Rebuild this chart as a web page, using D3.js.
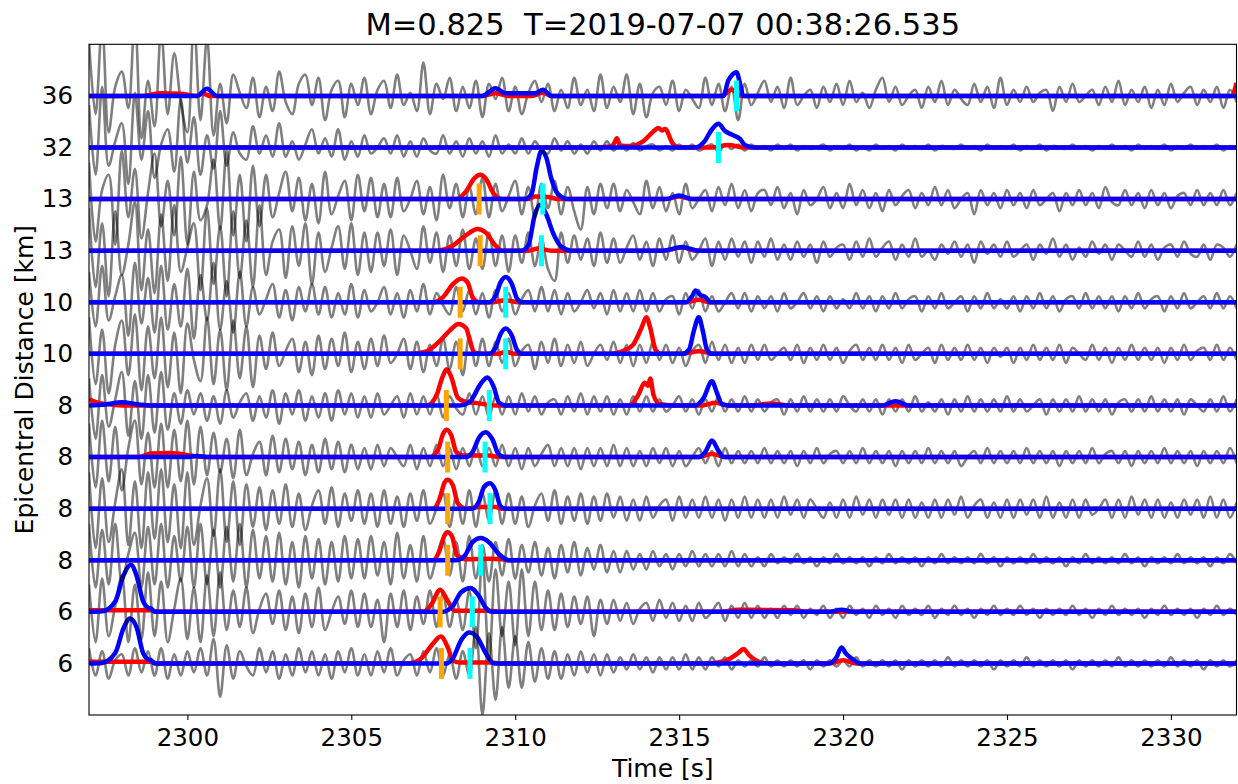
<!DOCTYPE html>
<meta charset="utf-8">
<title>Phase picks</title>
<style>
body {
  margin: 0;
  background: #fff;
}
text {
  font-family: "DejaVu Sans", sans-serif;
  fill: #000;
}
</style>
<body>
<script src="https://cdn.jsdelivr.net/npm/d3@7/dist/d3.min.js"></script>
<script>

// rows listed top to bottom
var distLabels = ["36", "32", "13", "13", "10", "10", "8", "8", "8", "8", "6", "6"];

var pickP = [null, null, 2308.9, 2308.93, 2308.32, 2308.32, 2307.9, 2307.94, 2307.94, 2307.94, 2307.71, 2307.75];
var pickS = [2316.75, 2316.2, 2310.84, 2310.8, 2309.71, 2309.71, 2309.21, 2309.08, 2309.23, 2308.95, 2308.69, 2308.62];

// P probability, [time, prob] knots
var probP = [
  [[2298.6,0],[2299.2,0.05],[2299.8,0.04],[2300.3,0],[2300.45,0.05],[2300.7,0],[2309.0,0],[2309.4,0.05],[2309.8,0],[2310.5,0],[2310.85,0.06],[2311.1,0],[2316.3,0],[2316.6,0.12],[2316.9,0],[2331.85,0],[2332,0.25]],
  [[2312.3,0],[2312.9,0.02],[2313.0,0.06],[2313.1,0.18],[2313.2,0.04],[2313.5,0.03],[2313.9,0.12],[2314.2,0.3],[2314.37,0.38],[2314.47,0.33],[2314.57,0.36],[2314.8,0.08],[2315.0,0],[2316.0,0],[2316.5,0.05],[2317.0,0]],
  [[2308.2,0],[2308.5,0.15],[2308.75,0.4],[2308.93,0.47],[2309.1,0.4],[2309.35,0.1],[2309.6,0],[2310.4,0],[2310.6,0.05],[2311.0,0.04],[2311.3,0],[2314.6,0],[2315.0,0.05],[2315.4,0]],
  [[2307.6,0],[2308.1,0.1],[2308.5,0.3],[2308.85,0.42],[2309.1,0.35],[2309.4,0.1],[2309.6,0],[2310.4,0],[2310.7,0.04],[2311.1,0],[2314.5,0],[2315.1,0.06],[2315.5,0]],
  [[2307.5,0],[2307.8,0.1],[2308.1,0.35],[2308.37,0.46],[2308.55,0.38],[2308.7,0.1],[2308.9,0],[2309.3,0],[2309.7,0.04],[2310.1,0],[2315.2,0],[2315.6,0.05],[2315.9,0]],
  [[2306.8,0],[2307.3,0.05],[2307.7,0.25],[2308.0,0.45],[2308.27,0.58],[2308.5,0.5],[2308.62,0.25],[2308.75,0.03],[2309.0,0],[2309.5,0],[2309.7,0.04],[2310.0,0],[2312.9,0],[2313.3,0.06],[2313.6,0.18],[2313.85,0.5],[2314.0,0.71],[2314.12,0.5],[2314.28,0.08],[2314.45,0],[2315.1,0],[2315.6,0.05],[2316.1,0]],
  [[2297,0.12],[2297.3,0.05],[2297.8,0.01],[2298.2,0],[2307.3,0],[2307.6,0.2],[2307.78,0.55],[2307.91,0.7],[2308.05,0.55],[2308.25,0.15],[2308.45,0.08],[2308.8,0.05],[2309.4,0],[2313.5,0],[2313.75,0.2],[2313.95,0.44],[2314.05,0.38],[2314.12,0.52],[2314.22,0.2],[2314.4,0.03],[2314.8,0],[2315.7,0],[2316.1,0.05],[2316.5,0],[2317.2,0],[2317.8,0.04],[2318.4,0]],
  [[2298.5,0],[2298.9,0.07],[2299.5,0.08],[2300.1,0.03],[2300.5,0],[2307.4,0],[2307.65,0.15],[2307.8,0.45],[2307.91,0.53],[2308.05,0.42],[2308.2,0.1],[2308.4,0.03],[2309.2,0.03],[2309.5,0],[2315.6,0],[2316.0,0.06],[2316.4,0]],
  [[2307.5,0],[2307.7,0.2],[2307.84,0.5],[2307.94,0.56],[2308.1,0.45],[2308.25,0.1],[2308.5,0],[2308.9,0.03],[2309.4,0.03],[2309.6,0]],
  [[2307.5,0],[2307.7,0.2],[2307.84,0.48],[2307.94,0.54],[2308.08,0.45],[2308.22,0.1],[2308.5,0.02],[2309.2,0.03],[2309.6,0.02],[2309.8,0]],
  [[2297,0.03],[2298.9,0.03],[2299.1,0],[2307.2,0],[2307.45,0.15],[2307.71,0.43],[2307.95,0.2],[2308.15,0.02],[2309.2,0.02],[2309.5,0],[2316.3,0],[2316.8,0.04],[2318.5,0.03],[2318.9,0]],
  [[2297,0.03],[2298.9,0.03],[2299.1,0],[2306.7,0],[2307.1,0.08],[2307.45,0.35],[2307.73,0.52],[2307.95,0.3],[2308.1,0.05],[2308.3,0.02],[2309.3,0.02],[2309.5,0],[2315.8,0],[2316.4,0.05],[2316.8,0.2],[2316.96,0.28],[2317.15,0.15],[2317.5,0.02],[2317.8,0],[2319.6,0],[2320.0,0.06],[2320.4,0]]
];

// S probability, [time, prob] knots
var probS = [
  [[2300.3,0],[2300.6,0.14],[2300.9,0],[2309.0,0],[2309.4,0.15],[2309.7,0.05],[2310.6,0.05],[2310.85,0.12],[2311.1,0],[2316.35,0],[2316.5,0.3],[2316.58,0.38],[2316.75,0.46],[2316.87,0.2],[2316.95,0]],
  [[2315.5,0],[2315.75,0.1],[2316.0,0.35],[2316.2,0.46],[2316.4,0.32],[2316.6,0.25],[2316.85,0.17],[2317.0,0.05],[2317.3,0]],
  [[2310.3,0],[2310.5,0.1],[2310.65,0.6],[2310.8,0.93],[2310.95,0.8],[2311.1,0.4],[2311.3,0.1],[2311.6,0],[2314.6,0],[2315.0,0.07],[2315.4,0]],
  [[2310.2,0],[2310.4,0.1],[2310.6,0.7],[2310.76,0.89],[2310.95,0.7],[2311.15,0.35],[2311.4,0.08],[2311.7,0],[2314.5,0],[2315.1,0.07],[2315.6,0]],
  [[2309.2,0],[2309.4,0.12],[2309.55,0.38],[2309.71,0.49],[2309.9,0.35],[2310.05,0.08],[2310.2,0],[2315.2,0],[2315.4,0.12],[2315.5,0.23],[2315.65,0.14],[2315.8,0.1],[2315.95,0]],
  [[2309.2,0],[2309.4,0.12],[2309.55,0.38],[2309.71,0.49],[2309.9,0.35],[2310.05,0.08],[2310.2,0],[2315.1,0],[2315.3,0.08],[2315.45,0.45],[2315.6,0.71],[2315.72,0.45],[2315.85,0.08],[2316.0,0]],
  [[2297,0],[2297.5,0.02],[2298.0,0.06],[2298.5,0.02],[2298.9,0],[2308.3,0],[2308.6,0.06],[2308.95,0.42],[2309.15,0.54],[2309.35,0.35],[2309.5,0.06],[2309.7,0],[2315.5,0],[2315.75,0.15],[2316.0,0.47],[2316.15,0.25],[2316.3,0.03],[2316.5,0],[2321.2,0],[2321.6,0.08],[2322.0,0]],
  [[2300.0,0],[2300.3,0.02],[2300.6,0],[2308.5,0],[2308.7,0.1],[2308.9,0.38],[2309.1,0.48],[2309.3,0.35],[2309.5,0.05],[2309.7,0],[2315.6,0],[2315.8,0.1],[2316.0,0.32],[2316.2,0.12],[2316.35,0]],
  [[2308.7,0],[2308.9,0.15],[2309.05,0.42],[2309.23,0.49],[2309.4,0.35],[2309.55,0.05],[2309.7,0]],
  [[2308.2,0],[2308.45,0.08],[2308.7,0.35],[2308.95,0.43],[2309.2,0.35],[2309.5,0.12],[2309.8,0]],
  [[2297,0],[2297.4,0.01],[2297.8,0.2],[2298.05,0.7],[2298.28,0.91],[2298.45,0.7],[2298.65,0.2],[2298.8,0.08],[2298.9,0.06],[2299.0,0],[2307.8,0],[2308.1,0.12],[2308.35,0.38],[2308.64,0.46],[2308.9,0.3],[2309.1,0.08],[2309.3,0],[2319.6,0],[2319.95,0.04],[2320.3,0]],
  [[2297,0],[2297.4,0.01],[2297.8,0.2],[2298.05,0.68],[2298.25,0.87],[2298.45,0.7],[2298.65,0.2],[2298.8,0.08],[2298.9,0.06],[2299.0,0],[2307.9,0],[2308.1,0.1],[2308.35,0.45],[2308.6,0.6],[2308.85,0.5],[2309.1,0.2],[2309.35,0],[2319.55,0],[2319.8,0.12],[2319.95,0.31],[2320.1,0.18],[2320.3,0.08],[2320.5,0]]
];

// waveform extrema, in counts (17 counts = one row spacing), from 2297 s to 2332 s
var wave36 = [18,-6,24,-12,3,8,-4,26,-14,5,-10,22,-6,14,-2,-12,25,-8,19,-13,
  4,-9,7,1,-4,6,-7,3,-5,8,-2,-6,4,7,-3,6,-8,2,5,-7,
  4,-3,6,-6,2,5,-4,7,-3,1,-5,11,-6,4,-1,6,-5,3,-4,5,
  -7,4,-1,6,-5,3,-6,1,5,-2,4,-5,2,-4,6,-3,2,-5,7,-4,
  3,-2,7,-6,4,-7,1,3,-3,5,-5,2,-1,-4,6,-3,4,-5,3,-8,
  4,-3,1,5,-2,3,-4,6,-3,0,2,-4,3,-2,4,-3,5,-2,1,-4,
  2,6,-2,3,-3,0,2,-4,3,-2,5,-3,2,-1,-3,4,-2,3,-4,6,
  -3,2,-2,3,-2,1,2,-5,3,-2,4,-2,0,2,-3,3,-2,5,-3,2,
  -2,3,-4,2,-3,4,-2,1,3,-3,2,-2,3,-4,2,-2];
var wave32 = [14,-9,20,-6,2,8,-12,18,-4,12,-10,1,6,-8,16,-5,10,-9,4,-7,
  12,-6,5,-2,-4,7,-2,4,-3,8,-3,2,-4,1,6,-2,3,-3,6,-4,
  2,-3,4,-2,0,3,-2,4,-3,2,-3,3,-1,-2,4,-2,2,-3,3,-2,
  2,-3,4,-2,1,-2,3,-2,2,-1,-2,3,-1,2,-2,1,-2,2,-1,2,
  -1,1,-1,1.5,-1,0.5,1,-1,0.5,-1,1,-0.5,1,-1,0,1,-1.5,1,-0.5,1,
  -1,1,-0.5,0.5,-1,1,-0.5,1,-1,0.5,-0.5,0,1,-1,0.5,-0.5,1,-1,0.5,-1,
  1,-0.5,0.5,-1,1,-0.5,0.5,-0.5,1,-1,0.5,0,-0.5,1,-0.5,0.5,-1,1,-0.5,0.5,
  -0.5,1,-1,0.5,-0.5,1,-1,0.5,0,-0.5,1,-0.5,0.5,-1,0.5,-0.5,1,-0.5,0.5,-1,
  1,-0.5,0.5,-0.5,1,-1,0.5,-0.5,1,-0.5,0.5,-0.5,1,-1,0.5,-0.5];
var wave13a = [12,-14,3,8,-15,16,-6,10,-13,2,15,-9,6,-12,14,-15,9,-7,-2,13,
  -10,16,-12,8,-14,11,-9,8,-6,2,9,-4,7,-7,5,-8,9,-5,1,6,
  -7,8,-4,7,-6,5,-6,7,-4,0,6,-5,4,-7,8,-3,5,-6,4,-5,
  7,-6,5,-4,1,6,-5,4,-6,5,-3,6,-5,4,-4,-10,4,-5,5,-3,
  5,-4,3,-1,-5,6,-3,4,-4,2,-5,5,-3,0,3,-4,4,-2,5,-3,
  3,-4,2,3,-2,4,-3,2,-5,3,-2,0,4,-3,2,-3,5,-2,3,-3,
  2,-4,3,-2,1,3,-3,2,-2,4,-2,3,-3,0,2,-5,3,-2,2,-3,
  3,-2,2,-3,3,-2,0,2,-4,2,-2,3,-2,2,-3,4,-1,-2,3,-2,
  2,-3,3,-2,2,-3,1,2,-2,3,-2,2,-2,3,-2,2];
var wave13b = [14,-12,9,-15,13,-8,2,16,-13,7,-14,12,-10,15,-7,1,9,-13,14,-11,
  8,-15,13,-9,10,-12,15,-8,3,7,-9,8,-5,9,-11,6,-7,1,8,-6,
  9,-8,6,-7,6,-5,7,-8,5,0,-6,8,-4,6,-7,5,-5,7,-6,4,
  -6,6,-5,5,-7,5,-4,6,-5,4,-6,-10,6,-4,5,-3,4,-5,6,-4,
  4,-4,1,5,-3,3,-5,4,-3,5,-4,3,-3,0,4,-5,3,-3,4,-2,
  3,-4,3,-2,4,-3,2,-3,3,-2,2,-4,3,-2,1,2,-3,3,-2,4,
  -2,1,3,-3,2,-2,4,-2,0,-3,2,-1,3,-2,2,-4,3,-1,2,-2,
  3,-2,0,2,-3,2,-1,4,-2,2,-3,1,-2,3,-1,2,-3,2,0,-2,
  3,-2,2,-3,1,2,-2,3,-1,-2,2,-3,2,1,-2,2];
var wave10a = [10,-8,12,-6,2,9,-11,13,-7,8,-10,12,-9,6,-8,11,-12,9,-6,13,
  -9,7,-10,10,-8,5,-4,1,6,-5,4,-6,5,-3,6,-4,5,-5,3,-4,
  6,-5,4,-3,0,5,-4,3,-5,4,-3,6,-4,3,-1,-4,5,-3,4,-4,
  3,-5,4,-3,3,-4,1,4,-3,5,-3,4,-4,3,-3,0,4,-2,3,-4,
  4,-3,3,-3,4,-3,3,-3,1,2,-4,3,-2,4,-3,2,-3,0,3,-2,
  3,-3,2,-2,2,-3,3,-2,0,3,-2,2,-3,2,-2,1,-2,3,-2,2,
  -3,2,-2,3,-2,1,2,-3,2,-2,3,-2,0,2,-3,2,-2,3,-2,1,
  -2,2,-3,2,-2,3,-2,2,-3,1,2,-2,3,-2,2,-2,2,-3,2,-2,
  3,-2,1,2,-3,2,-2,3,-2,0,2,-2,3,-2,2,-2];
var wave10b = [12,-10,8,-13,3,11,-7,13,-12,9,-8,12,-11,7,-13,10,-2,-9,12,-10,
  8,-12,11,-8,9,-11,6,-5,7,-4,1,5,-6,4,-7,6,-5,5,-4,7,
  -6,4,-5,5,-4,6,-3,0,5,-5,4,-6,3,-4,5,-5,4,-7,6,-4,
  5,-4,4,-3,5,-4,1,3,-5,4,-3,5,-4,3,-3,4,-4,0,3,-2,
  4,-3,3,-4,3,-3,4,-2,3,-3,2,-4,1,3,-3,4,-2,3,-3,2,
  -3,3,-2,3,-2,0,2,-2,3,-3,2,-2,3,-2,2,-3,1,3,-2,2,
  -2,3,-2,2,-3,3,-2,0,2,-3,3,-2,2,-2,3,-2,2,-3,2,-1,
  2,-3,2,-2,3,-2,2,-2,3,-3,2,0,-2,3,-2,2,-3,2,-2,3,
  -2,2,-2,2,-3,2,-2,3,-2,1,2,-2,3,-2,2,-2];
var wave8a = [9,-11,10,-7,2,11,-10,8,-11,10,-9,11,-8,4,-6,5,-3,4,-5,3,
  -6,5,-4,1,4,-5,3,-4,5,-6,4,-3,5,-5,3,-4,4,-5,5,-3,
  4,-4,3,-4,4,-3,0,3,-4,4,-3,3,-3,4,-4,3,-1,-3,4,-3,
  3,-4,3,-3,3,-3,4,-2,3,-3,1,2,-3,3,-2,4,-3,3,-2,3,
  -3,2,-3,3,-2,3,-2,2,-2,0,3,-2,2,-3,2,-2,3,-2,2,-2,
  3,-2,2,-2,1,2,-3,2,-2,3,-2,2,-2,2,-2,3,0,-2,2,-2,
  2,-3,2,-2,2,-2,3,-2,1,-2,2,-3,2,-2,3,-2,2,-2,2,-2,
  3,-2,2,-2,0,2,-3,2,-2,2,-2,3,-2,2,-2,2,-3,1,2,-2,
  2,-2,3,-2,2,-2,2,-3,2,0,-2,2,-2,3,-2,2];
var wave8b = [11,-10,12,-8,10,-11,3,12,-9,8,-10,11,-10,9,-8,12,-9,10,-6,8,
  -5,6,-7,9,-6,1,5,-6,7,-5,6,-4,5,-6,4,-5,6,-4,5,-5,
  4,-4,3,-4,4,-3,3,0,-3,4,-4,3,-3,4,-3,3,-4,3,-3,4,
  -3,3,-3,4,-3,3,-4,3,-3,1,4,-3,3,-3,3,-4,3,-3,3,-3,
  4,-3,3,-3,2,-3,3,-2,3,-3,2,-3,0,3,-2,2,-3,3,-2,2,
  -2,2,-2,3,-2,2,-2,2,-3,2,-2,3,-2,1,2,-2,2,-2,3,-2,
  2,-2,2,-3,2,-2,2,-2,3,-2,2,-2,2,-3,0,2,-2,3,-2,2,
  -2,2,-2,3,-2,2,-2,2,-3,2,-2,2,-2,3,-2,1,2,-2,2,-3,
  2,-2,2,-2,3,-2,2,-2,2,-3,2,-2,2,-2,3,-2];
var wave8c = [12,-13,10,-11,2,13,-12,9,-13,12,-10,13,-11,8,-13,12,-12,1,10,-9,
  13,-11,9,-12,8,-6,7,-7,6,-5,8,-6,5,-7,1,6,-5,7,-6,5,
  -4,6,-5,5,-6,6,-5,4,-6,5,-4,6,-5,0,5,-6,4,-5,6,-6,
  5,-4,6,-5,5,-5,4,-6,1,5,-4,6,-5,4,-4,5,-5,4,-4,5,
  -3,4,-4,3,-4,4,-3,1,3,-4,4,-3,3,-3,4,-3,3,-4,3,-3,
  4,-3,3,-3,3,-3,4,-2,3,-3,3,0,-3,2,-3,3,-3,4,-2,3,
  -3,3,-2,3,-3,3,-3,2,-3,3,-3,3,-2,4,-3,1,3,-3,2,-3,
  3,-3,3,-2,3,-3,4,-3,2,-3,3,-3,3,-2,0,3,-3,3,-3,4,
  -2,3,-3,3,-3,2,-3,3,-2,3,-3,4,-3,3,-3,2];
var wave8d = [12,-9,10,-8,12,-7,2,9,-9,11,-8,12,-9,8,-7,11,-9,12,-8,10,
  -9,11,-7,12,-9,10,-6,8,-7,9,-8,6,-9,8,-6,7,-8,6,-7,8,
  -6,7,-6,8,-5,6,-8,9,-6,5,-7,8,-6,1,7,-5,6,-7,8,-6,
  5,-7,6,-5,7,-6,5,-4,6,-5,4,-6,5,-4,6,-5,4,-3,5,-4,
  3,-4,3,-3,2,-3,3,-2,2,-3,2,-2,3,-2,2,-2,2,-2,3,-2,
  2,-2,1,-2,2,-1,1,-1,2,-1,1,-2,1,-1,2,-1,1,-1,1,-2,
  1,-1,2,-1,1,-1,1,-2,1,-1,2,-1,1,-1,1,-1,2,-1,1,-2,
  1,-1,1,-1,2,-1,1,-1,1,-2,1,-1,2,-1,1,-1,1,-1,2,-1,
  1,-2,1,-1,1,-1,2,-1,1,-1,1,-2,1,-1,2,-1];
var wave6a = [9,-10,11,-8,2,12,-10,9,-9,13,-8,10,-10,1,11,-9,8,-10,12,-8,
  13,-6,7,-5,8,-7,1,6,-4,7,-6,5,-7,6,-5,8,-6,0,5,-4,
  7,-5,6,-5,4,-10,6,-5,7,-6,5,-4,7,-5,6,-5,4,-6,7,-12,
  18,-16,14,-8,10,-11,14,-8,10,-6,7,-6,6,-5,5,-4,5,-8,4,-4,
  4,-3,3,-4,1,3,-3,4,-2,3,-3,2,-3,3,-2,0,3,-3,2,-2,
  3,-2,2,-2,1,-2,2,-1,2,-2,1,-1,2,-2,1,-2,2,-1,1,-2,
  2,-1,1,-2,2,-1,1,-1,2,-2,1,-1,2,-1,1,-2,1,-1,2,-1,
  1,-1,2,-1,1,-2,1,-1,1,-1,2,-1,1,-2,1,-1,2,-1,1,-1,
  1,-2,1,-1,2,-1,1,-1,1,-2,1,-1,2,-1,1,-1];
var wave6b = [5,-4,4,-5,1,3,-4,5,-3,4,-4,5,-5,3,-4,4,-3,5,-4,8,
  -11,6,-5,4,-1,-4,5,-3,4,-5,3,-4,5,-3,4,-4,3,-5,4,-3,
  5,-4,3,-4,4,-3,5,-4,1,3,-4,4,-3,5,-4,3,-5,4,-4,12,
  -17,10,-12,12,-8,9,-8,7,-6,5,-5,4,-5,3,-4,4,-3,3,-4,3,
  -3,2,-2,3,-2,2,-3,2,-2,2,-2,3,-2,2,-2,2,-1,2,-2,1,
  -1,1,-1,2,-1,1,-1,1,-1,1,-2,1,-1,1,-1,1,-1,2,-1,1,
  -1,1,-1,1,-2,1,-1,1,-1,1,-1,2,-1,1,-1,1,-1,1,-2,1,
  -1,1,-1,2,-1,1,-1,1,-1,1,-2,1,-1,1,-1,1,-1,2,-1,1,
  -1,1,-1,1,-1,2,-1,1,-1,1,-2,1,-1,1,-1,1];

var waves = [wave36, wave32, wave13a, wave13b, wave10a, wave10b, wave8a, wave8b, wave8c, wave8d, wave6a, wave6b];
var countsPerRow = 17;

var t0 = 2297, t1 = 2332;
var nRows = distLabels.length;

var W = 1238, H = 784;
var plotL = 89, plotR = 1236.5, plotT = 44.3, plotB = 715;

var x = d3.scaleLinear().domain([t0, t1]).range([plotL, plotR]);
var y = d3.scaleLinear().domain([-1, nRows]).range([plotB, plotT]);

var svg = d3.select("body").append("svg")
    .attr("width", W)
    .attr("height", H);

svg.append("clipPath").attr("id", "clip")
  .append("rect")
    .attr("x", plotL).attr("y", plotT)
    .attr("width", plotR - plotL).attr("height", plotB - plotT);

var plot = svg.append("g").attr("clip-path", "url(#clip)");

function rowOf(j) { return nRows - 1 - j; }

function fullCurve(knots) {
  var pts = knots.slice();
  if (pts[0][0] > t0) pts.unshift([t0, 0]);
  if (pts[pts.length - 1][0] < t1) pts.push([t1, 0]);
  return pts;
}

// bottom row first, so upper traces lie over lower ones
for (var j = nRows - 1; j >= 0; j--) {
  var r = rowOf(j);
  var g = plot.append("g");
  var wv = waves[j];
  var dt = (t1 - t0) / (wv.length - 1);

  var wline = d3.line()
      .x(function(d, k) { return x(t0 + k * dt); })
      .y(function(d) { return y(r + d / countsPerRow); })
      .curve(d3.curveCatmullRom);

  var pline = d3.line()
      .x(function(d) { return x(d[0]); })
      .y(function(d) { return y(r + d[1]); })
      .curve(d3.curveMonotoneX);

  g.append("path")
      .attr("d", wline(wv))
      .attr("fill", "none")
      .attr("stroke", "#000")
      .attr("stroke-opacity", 0.5)
      .attr("stroke-width", 2.6);

  g.append("path")
      .attr("d", pline(fullCurve(probP[j])))
      .attr("fill", "none")
      .attr("stroke", "#ff0000")
      .attr("stroke-width", 4.5);

  g.append("path")
      .attr("d", pline(fullCurve(probS[j])))
      .attr("fill", "none")
      .attr("stroke", "#0000ff")
      .attr("stroke-width", 4.5);

  if (pickP[j] != null) {
    g.append("line")
        .attr("x1", x(pickP[j])).attr("x2", x(pickP[j]))
        .attr("y1", y(r + 0.3)).attr("y2", y(r - 0.3))
        .attr("stroke", "orange")
        .attr("stroke-width", 5);
  }
  if (pickS[j] != null) {
    g.append("line")
        .attr("x1", x(pickS[j])).attr("x2", x(pickS[j]))
        .attr("y1", y(r + 0.3)).attr("y2", y(r - 0.3))
        .attr("stroke", "cyan")
        .attr("stroke-width", 5);
  }
}

// axes
var xAxis = d3.axisBottom(x)
    .tickValues(d3.range(2300, 2331, 5))
    .tickFormat(d3.format("d"))
    .tickSize(5)
    .tickPadding(9);

var gx = svg.append("g")
    .attr("transform", "translate(0," + plotB + ")")
    .call(xAxis);
gx.select(".domain").remove();
gx.selectAll("line").attr("stroke", "#000").attr("stroke-width", 1.1);
gx.selectAll("text").attr("font-size", 24.5).attr("font-family", "DejaVu Sans");

var yAxis = d3.axisLeft(y)
    .tickValues(d3.range(nRows))
    .tickFormat(function(v) { return distLabels[nRows - 1 - v]; })
    .tickSize(0)
    .tickPadding(16);

var gy = svg.append("g")
    .attr("transform", "translate(" + plotL + ",0)")
    .call(yAxis);
gy.select(".domain").remove();
gy.selectAll("text").attr("font-size", 24.5).attr("font-family", "DejaVu Sans");

svg.append("rect")
    .attr("x", plotL).attr("y", plotT)
    .attr("width", plotR - plotL).attr("height", plotB - plotT)
    .attr("fill", "none")
    .attr("stroke", "#000")
    .attr("stroke-width", 1.1);

svg.append("text")
    .attr("x", (plotL + plotR) / 2)
    .attr("y", 35)
    .attr("text-anchor", "middle")
    .attr("font-size", 30.5)
    .style("white-space", "pre")
    .text("M=0.825  T=2019-07-07 00:38:26.535");

svg.append("text")
    .attr("x", (plotL + plotR) / 2)
    .attr("y", 777)
    .attr("text-anchor", "middle")
    .attr("font-size", 25)
    .text("Time [s]");

svg.append("text")
    .attr("transform", "translate(33," + ((plotT + plotB) / 2) + ") rotate(-90)")
    .attr("text-anchor", "middle")
    .attr("font-size", 25)
    .text("Epicentral Distance [km]");

</script>
